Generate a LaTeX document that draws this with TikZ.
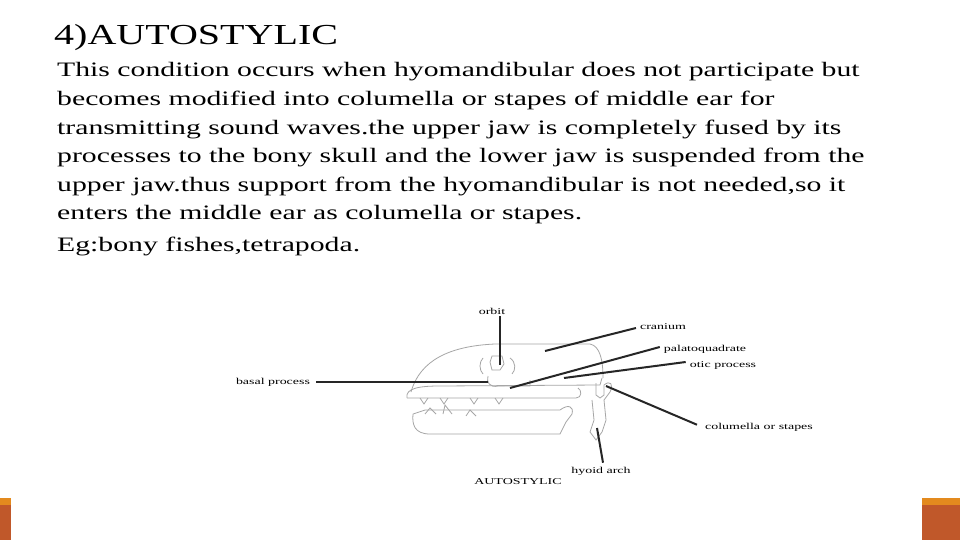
\documentclass[tikz,border=0pt]{standalone}
\usepackage{fontspec}
\setmainfont{Liberation Serif}
\newfontfamily\widefont[FakeStretch=1.45]{Liberation Serif}
\newfontfamily\titlefont[FakeStretch=1.38]{Liberation Serif}
\newfontfamily\lblfont[FakeStretch=1.55]{Liberation Serif}
\definecolor{barbrown}{HTML}{C0582A}
\definecolor{barorange}{HTML}{E38A1E}
\begin{document}
\begin{tikzpicture}[x=1pt,y=-1pt,
  lbl/.style={font=\lblfont\fontsize{9}{10}\selectfont,inner sep=0pt},
  lead/.style={line width=2pt,black!85},
  sk/.style={gray!70,line width=0.8pt},
  body/.style={anchor=west,inner sep=0pt,font=\widefont\fontsize{20.5}{24}\selectfont}]
\useasboundingbox (0,0) rectangle (960,540);
\fill[white] (0,0) rectangle (960,540);
% corner bars
\fill[barbrown] (0,505) rectangle (11,540);
\fill[barorange] (0,498) rectangle (11,505);
\fill[barbrown] (922,505) rectangle (960,540);
\fill[barorange] (922,498) rectangle (960,505);
% texts
\node[anchor=west,inner sep=0pt,font=\titlefont\fontsize{29}{30}\selectfont] (title) at (54,38) {4)AUTOSTYLIC};
\node[body] (l1) at (57,72) {This condition occurs when hyomandibular does not participate but};
\node[body] (l2) at (57,100) {becomes modified into columella or stapes of middle ear for};
\node[body] (l3) at (57,129) {transmitting sound waves.the upper jaw is completely fused by its};
\node[body] (l4) at (57,157) {processes to the bony skull and the lower jaw is suspended from the};
\node[body] (l5) at (57,186) {upper jaw.thus support from the hyomandibular is not needed,so it};
\node[body] (l6) at (57,215) {enters the middle ear as columella or stapes.};
\node[body] (l7) at (57,246) {Eg:bony fishes,tetrapoda.};
% skull sketch
\draw[sk] (411,392) .. controls (420,360) and (450,346) .. (495,344) -- (590,344) .. controls (600,346) and (603,360) .. (603,378);
\draw[sk] (407,398) .. controls (405,388) and (420,386) .. (440,386) -- (600,385) -- (602,378);
\draw[sk] (407,398) -- (576,398) .. controls (582,398) and (582,390) .. (578,388);
\draw[sk] (420,398) -- (424,404) -- (428,398) (440,398) -- (444,404) -- (448,398) (470,398) -- (474,404) -- (478,398) (495,398) -- (499,404) -- (503,398);
\draw[sk] (413,414) -- (425,410) -- (560,410) .. controls (568,404) and (574,406) .. (572,414) -- (566,422) -- (560,434) -- (430,434) .. controls (414,434) and (412,424) .. (413,414);
\draw[sk] (425,414) -- (430,408) -- (436,414) (443,414) -- (445,405) -- (452,414) (466,416) -- (470,410) -- (476,416);
\draw[sk] (483,358) .. controls (479,362) and (479,370) .. (483,374) (490,362) -- (492,356) -- (502,356) -- (504,364) -- (500,370) -- (492,370) -- cycle (510,358) .. controls (516,362) and (516,370) .. (512,374);
\draw[sk] (488,376) .. controls (486,382) and (490,388) .. (498,386) -- (530,386) -- (530,380);
\draw[sk] (596,383) -- (596,395) -- (600,398) -- (604,395) -- (604,385) .. controls (610,380) and (614,384) .. (610,392) -- (604,400) -- (606,420) -- (602,432) -- (596,440) -- (590,432) -- (594,420) -- (592,400);
% labels
\node[lbl] (orbit) at (492,311) {orbit};
\node[lbl] (cranium) at (663,327) {cranium};
\node[lbl] (palato) at (705,349) {palatoquadrate};
\node[lbl] (otic) at (723,365) {otic process};
\node[lbl] (basal) at (273,382) {basal process};
\node[lbl] (colum) at (759,427) {columella or stapes};
\node[lbl] (hyoid) at (601,471) {hyoid arch};
\node[lbl] (auto) at (518,482) {AUTOSTYLIC};
\coordinate (orbitE) at (500,365);
\coordinate (cranE) at (545,351);
\coordinate (palE) at (510,388);
\coordinate (oticE) at (564,378);
\coordinate (basE) at (488,382);
\coordinate (colE) at (606,386);
\coordinate (hyE) at (597,428);
\draw[lead] (500,316) -- (orbitE);
\draw[lead] (cranium.west) ++(-4,1) -- (cranE);
\draw[lead] (palato.west) ++(-4,-2) -- (palE);
\draw[lead] (otic.west) ++(-4,-3) -- (oticE);
\draw[lead] (basal.east) ++(6,0) -- (basE);
\draw[lead] (colum.north west) ++(-8,2) -- (colE);
\draw[lead] (hyoid.north) ++(2,-4) -- (hyE);
\end{tikzpicture}
\end{document}
